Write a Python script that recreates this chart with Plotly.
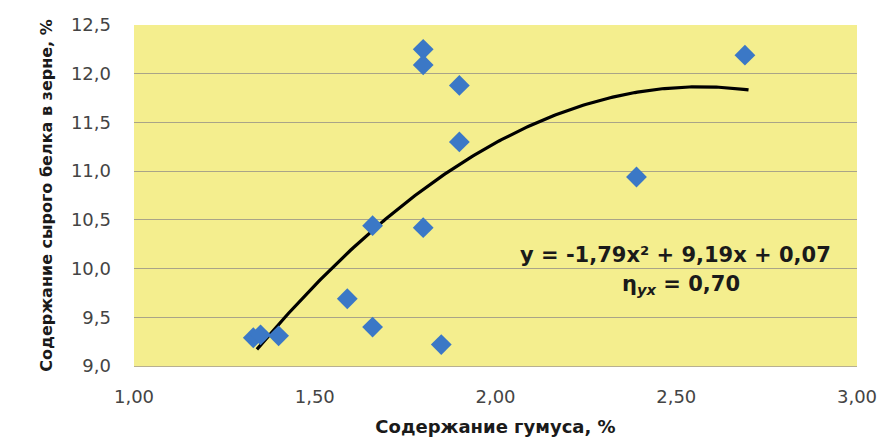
import numpy as np
import plotly.graph_objects as go

# Data
humus = [1.33, 1.35, 1.40, 1.59, 1.66, 1.66, 1.80, 1.80, 1.80, 1.85, 1.90, 1.90, 2.39, 2.69]
protein = [9.29, 9.32, 9.31, 9.69, 9.40, 10.44, 10.42, 12.25, 12.09, 9.22, 11.88, 11.30, 10.94, 12.19]

# Trend line coefficients as shown in the chart (y = a x^2 + b x + c)
trend_coef = [-1.79, 9.19, 0.07]
trend_range = [1.34, 2.70]

x_ticks = [1.0, 1.5, 2.0, 2.5, 3.0]
x_ticklabels = ["1,00", "1,50", "2,00", "2,50", "3,00"]
y_ticks = [9.0, 9.5, 10.0, 10.5, 11.0, 11.5, 12.0, 12.5]
y_ticklabels = ["9,0", "9,5", "10,0", "10,5", "11,0", "11,5", "12,0", "12,5"]

eq_text = "y = -1,79x² + 9,19x + 0,07"
eta_text = "η<sub><i>yx</i></sub> = 0,70"

xt = np.linspace(trend_range[0], trend_range[1], 200)
yt = np.polyval(trend_coef, xt)

FONT = "DejaVu Sans"

fig = go.Figure()
fig.add_trace(go.Scatter(
    x=xt, y=yt, mode="lines",
    line=dict(color="black", width=3.2),
    hoverinfo="skip", showlegend=False,
))
fig.add_trace(go.Scatter(
    x=humus, y=protein, mode="markers",
    marker=dict(symbol="diamond", size=16, color="#3B78C6"),
    showlegend=False,
))

fig.add_annotation(
    x=2.934, y=10.14, xref="x", yref="y",
    text=eq_text, showarrow=False, xanchor="right", yanchor="middle",
    font=dict(family=FONT, size=21, color="#1a1a1a", weight="bold"),
)
fig.add_annotation(
    x=2.513, y=9.83, xref="x", yref="y",
    text=eta_text, showarrow=False, xanchor="center", yanchor="middle",
    font=dict(family=FONT, size=21, color="#1a1a1a", weight="bold"),
)

fig.update_layout(
    width=891, height=440,
    margin=dict(l=134, r=34, t=25, b=74),
    paper_bgcolor="white",
    plot_bgcolor="#F4EE8E",
    font=dict(family=FONT, color="#3a3a3a"),
    xaxis=dict(
        range=[1.0, 3.0], tickvals=x_ticks, ticktext=x_ticklabels,
        showgrid=False, zeroline=False, automargin=False,
        showline=True, linecolor="#B8B090", linewidth=1,
        tickfont=dict(family=FONT, size=18, color="#444444"),
        ticklabelstandoff=14,
        title=dict(text="Содержание гумуса, %", standoff=14,
                   font=dict(family=FONT, size=18, color="#1a1a1a", weight="bold")),
    ),
    yaxis=dict(
        range=[9.0, 12.5], tickvals=y_ticks, ticktext=y_ticklabels,
        showgrid=True, gridcolor="#A9A488", gridwidth=1, zeroline=False,
        showline=False, automargin=False,
        tickfont=dict(family=FONT, size=18, color="#444444"),
        ticklabelstandoff=22,
        title=dict(text="Содержание сырого белка в зерне, %", standoff=14,
                   font=dict(family=FONT, size=16, color="#1a1a1a", weight="bold")),
    ),
)

fig.write_html("out.html", config={"displayModeBar": False},
               post_script="document.body.style.margin='0';")
